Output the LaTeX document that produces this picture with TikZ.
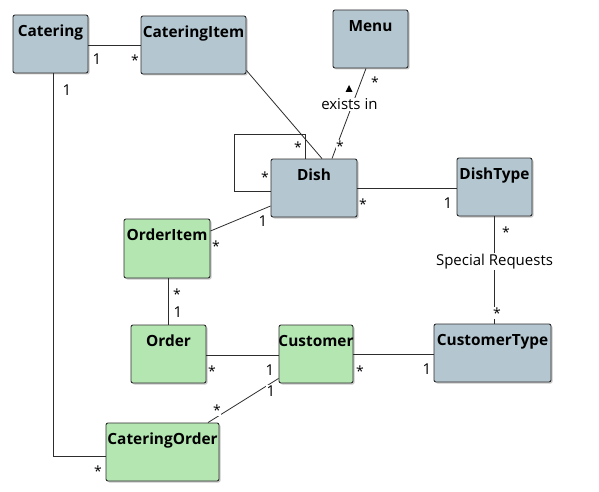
\documentclass[tikz,border=0pt]{standalone}
\usepackage{fontspec}
\setmainfont{Open Sans}
\usetikzlibrary{shadows}
\definecolor{bluebox}{RGB}{180,199,208}
\definecolor{greenbox}{RGB}{180,230,178}
\definecolor{edgecol}{RGB}{45,45,45}
\begin{document}
\begin{tikzpicture}[x=1pt,y=-1pt,
  cls/.style={draw=edgecol, line width=0.9pt, rounded corners=2pt, inner sep=0pt,
    minimum height=58pt,
    drop shadow={shadow xshift=1.5pt, shadow yshift=-1.5pt, opacity=0.3, fill=black!70}},
  bluecls/.style={cls, fill=bluebox},
  greencls/.style={cls, fill=greenbox},
  title/.style={font=\bfseries\fontsize{15.4}{18}\selectfont, anchor=base, yshift=-22pt, inner sep=0pt},
  conn/.style={draw=edgecol, line width=0.8pt},
  lbl/.style={font=\fontsize{15}{18}\selectfont, fill=white, inner sep=1pt},
  star/.style={font=\fontsize{14}{16}\selectfont, anchor=base, yshift=-8pt, inner sep=0.6pt, fill=white},
  one/.style={font=\fontsize{15}{18}\selectfont, anchor=base, yshift=-5.5pt, inner sep=0.6pt, fill=white}
]
\useasboundingbox (0,0) rectangle (599,492);
\fill[white] (0,0) rectangle (599,492);

% classes
\node[bluecls, minimum width=75pt, label={[title]north:Catering}] (catering) at (50.5,44) {};
\node[bluecls, minimum width=105pt, label={[title]north:CateringItem}] (cateringitem) at (193.5,45) {};
\node[bluecls, minimum width=75pt, label={[title]north:Menu}] (menu) at (370.5,39) {};
\node[bluecls, minimum width=86pt, label={[title]north:Dish}] (dish) at (314,188) {};
\node[bluecls, minimum width=75pt, label={[title]north:DishType}] (dishtype) at (494.5,187) {};
\node[greencls, minimum width=86pt, minimum height=59pt, label={[title]north:OrderItem}] (orderitem) at (167,248.5) {};
\node[greencls, minimum width=75pt, label={[title]north:Order}] (order) at (168.5,354) {};
\node[greencls, minimum width=74pt, label={[title]north:Customer}] (customer) at (316,354) {};
\node[bluecls, minimum width=117pt, label={[title]north:CustomerType}] (customertype) at (492.5,353) {};
\node[greencls, minimum width=113pt, label={[title]north:CateringOrder}] (cateringorder) at (162.5,452) {};

% connectors
\draw[conn] ([yshift=-1pt]catering.east) -- ([yshift=-1pt]catering.east -| cateringitem.west);
\draw[conn] ([xshift=2.5pt]catering.south) |- ([yshift=-4pt]cateringorder.west);
\draw[conn] ([yshift=4pt]cateringitem.south east) -- ([xshift=8pt]dish.north);
\draw[conn] ([xshift=-4.5pt]menu.south) -- node[lbl, pos=0.4, xshift=-3pt] (existsin) {exists in} ([xshift=18pt]dish.north);
\draw[conn] ([xshift=-9pt]dish.north) -- ++(0,-24) coordinate (loopa) -| ([xshift=-36pt,yshift=-3pt]dish.west) coordinate (loopb) -- ([yshift=-3pt]dish.west);
\draw[conn] (dish.east) -- (dish.east -| dishtype.west);
\draw[conn] (dishtype.south) -- node[lbl, pos=0.42] (special) {Special Requests} (dishtype.south |- customertype.north);
\draw[conn] ([yshift=17.5pt]orderitem.east) -- ([yshift=-18pt]dish.west);
\draw[conn] (order.north |- orderitem.south) -- (order.north);
\draw[conn] ([yshift=-1pt]order.east) -- ([yshift=-1pt]order.east -| customer.west);
\draw[conn] (customer.east) -- (customer.east -| customertype.west);
\draw[conn] ([xshift=45.5pt]cateringorder.north) -- ([yshift=5pt]customer.south west);

% direction marker
\fill[black] (345.5,92) -- (352.5,92) -- (349,85) -- cycle;

% multiplicities
\node[one]  (m1) at (97,59) {1};
\node[star] (m2) at (135,58) {*};
\node[one]  (m3) at (67,90) {1};
\node[star] (m4) at (98,468) {*};
\node[star] (m5) at (375,80) {*};
\node[star] (m6) at (340,143) {*};
\node[star] (m7) at (298,144) {*};
\node[star] (m8) at (265,174) {*};
\node[star] (m9) at (363,201) {*};
\node[one]  (m10) at (448,203) {1};
\node[star] (m11) at (506,229) {*};
\node[star] (m12) at (497,310) {*};
\node[star] (m13) at (216,243) {*};
\node[one]  (m14) at (263,221) {1};
\node[star] (m15) at (177,291) {*};
\node[one]  (m16) at (178,312) {1};
\node[star] (m17) at (212,368) {*};
\node[one]  (m18) at (270,370) {1};
\node[star] (m19) at (360,368) {*};
\node[one]  (m20) at (427,369) {1};
\node[star] (m21) at (217,407) {*};
\node[one]  (m22) at (271,391) {1};
\end{tikzpicture}
\end{document}
